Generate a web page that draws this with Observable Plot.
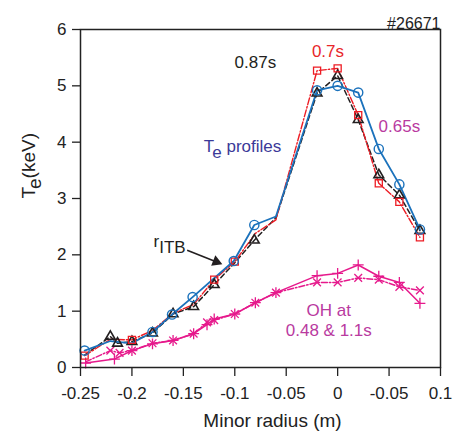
<!DOCTYPE html>
<html><head><meta charset="utf-8">
<script src="https://cdn.jsdelivr.net/npm/d3@7"></script>
<script src="https://cdn.jsdelivr.net/npm/@observablehq/plot@0.6"></script>
<style>body{margin:0;background:#fff} svg{display:block}</style>
</head><body><div id="chart"></div>
<script>
// ---- data ----
const xTicks = [-0.25, -0.2, -0.15, -0.1, -0.05, 0, 0.05, 0.1];
const xTickLabels = ["-0.25", "-0.2", "-0.15", "-0.1", "-0.05", "0", "-0.05", "0.1"];
const yTicks = [0, 1, 2, 3, 4, 5, 6];

// 0.65s (blue, circles)
const blueX = [-0.246, -0.221, -0.2, -0.18, -0.161, -0.141, -0.101, -0.081, -0.06, -0.02, 0, 0.02, 0.04, 0.06, 0.08];
const blueY = [0.30, 0.47, 0.43, 0.63, 0.94, 1.25, 1.89, 2.53, 2.68, 4.92, 5.0, 4.88, 3.88, 3.25, 2.45];
const blueMarked = [1, 0, 0, 1, 1, 1, 1, 1, 0, 1, 1, 1, 1, 1, 1];

// 0.7s (red, squares)
const redX = [-0.246, -0.221, -0.2, -0.18, -0.16, -0.14, -0.12, -0.1, -0.08, -0.06, -0.02, 0, 0.02, 0.04, 0.06, 0.08];
const redY = [0.21, 0.50, 0.49, 0.66, 0.96, 1.12, 1.56, 1.88, 2.38, 2.62, 5.27, 5.31, 4.48, 3.27, 2.94, 2.31];
const redMarked = [1, 0, 1, 0, 0, 0, 1, 1, 0, 0, 1, 1, 1, 1, 1, 1];

// 0.87s (black, triangles)
const blackX = [-0.246, -0.221, -0.214, -0.2, -0.18, -0.16, -0.14, -0.12, -0.1, -0.081, -0.06, -0.02, 0, 0.02, 0.04, 0.06, 0.08];
const blackY = [0.22, 0.55, 0.43, 0.46, 0.61, 0.95, 1.08, 1.47, 1.86, 2.26, 2.66, 4.87, 5.18, 4.40, 3.42, 3.06, 2.43];
const blackMarked = [0, 1, 1, 1, 1, 1, 1, 1, 0, 1, 0, 1, 1, 1, 1, 1, 1];

// OH (magenta) — solid with "+"
const ohAX = [-0.245, -0.217, -0.2, -0.18, -0.16, -0.14, -0.127, -0.12, -0.1, -0.08, -0.06, -0.02, 0, 0.02, 0.04, 0.06, 0.08];
const ohAY = [0.08, 0.15, 0.30, 0.42, 0.48, 0.60, 0.76, 0.86, 0.95, 1.15, 1.33, 1.63, 1.67, 1.82, 1.62, 1.51, 1.14];
// OH (magenta) — dash-dot with "x"
const ohBX = [-0.245, -0.221, -0.212, -0.2, -0.18, -0.16, -0.14, -0.127, -0.12, -0.1, -0.08, -0.06, -0.02, 0, 0.02, 0.04, 0.06, 0.08];
const ohBY = [0.10, 0.30, 0.26, 0.30, 0.43, 0.48, 0.60, 0.80, 0.84, 0.95, 1.15, 1.33, 1.51, 1.51, 1.59, 1.56, 1.43, 1.37];
const ohBMarked = [0, 1, 1, 1, 1, 1, 1, 1, 1, 1, 1, 1, 1, 1, 1, 1, 1, 1];

// annotation texts
const annoText = ["0.87s", "0.7s", "0.65s", "Te profiles", "OH at", "0.48 & 1.1s"];
const annoX = [-0.080, -0.0094, 0.060, -0.0925, -0.0086, -0.0086];
const annoY = [5.41, 5.60, 4.27, 3.92, 1.01, 0.66];
const annoColor = ["#231f20", "#e8262a", "#b93a9f", "#3b3a98", "#b93a9f", "#b93a9f"];
const rITB = {text: "rITB", x: -0.179, y: 2.23};
const arrowFrom = [-0.1463, 2.08];
const arrowTo = [-0.1139, 1.846];

// ---- build tables ----
const mk = (xs, ys, flags) => xs.map((x, i) => ({x, y: ys[i], m: flags ? !!flags[i] : true}));
const blue = mk(blueX, blueY, blueMarked);
const red = mk(redX, redY, redMarked);
const black = mk(blackX, blackY, blackMarked);
const ohA = mk(ohAX, ohAY);
const ohB = mk(ohBX, ohBY, ohBMarked);
const anno = annoText.map((t, i) => ({t, x: annoX[i], y: annoY[i], c: annoColor[i]}));

const FONT = "Liberation Sans, Arial, Helvetica, sans-serif";
const MAG = "#e6198c";

const chart = Plot.plot({
  width: 453, height: 437,
  marginLeft: 80, marginRight: 13, marginTop: 29, marginBottom: 70,
  x: {domain: [-0.25, 0.1]},
  y: {domain: [0, 6]},
  style: {fontFamily: FONT, fontSize: "17px", color: "#222", background: "white", overflow: "visible"},
  marks: [
    Plot.axisX({ticks: xTicks, tickFormat: d => xTickLabels[xTicks.findIndex(t => Math.abs(t - d) < 1e-9)],
      tickSize: 9, tickPadding: 10, label: null, stroke: "#222", strokeWidth: 1.3, fill: "#222"}),
    Plot.axisY({ticks: yTicks, tickFormat: d => String(d), tickSize: 8, tickPadding: 6, label: null,
      stroke: "#222", strokeWidth: 1.3, fill: "#222"}),
    // OH lines
    Plot.line(ohA, {x: "x", y: "y", stroke: MAG, strokeWidth: 1.5}),
    Plot.line(ohB, {x: "x", y: "y", stroke: MAG, strokeWidth: 1.5, strokeDasharray: "6,2,1.5,2"}),
    Plot.dot(ohA, {x: "x", y: "y", symbol: "plus", r: 3.6, stroke: MAG, strokeWidth: 1.3}),
    Plot.dot(ohB.filter(d => d.m), {x: "x", y: "y", symbol: "times", r: 3.6, stroke: MAG, strokeWidth: 1.3}),
    // profiles
    Plot.line(black, {x: "x", y: "y", stroke: "#231f20", strokeWidth: 1.5, strokeDasharray: "5,3"}),
    Plot.line(red, {x: "x", y: "y", stroke: "#ed1c24", strokeWidth: 1.4, strokeDasharray: "7,2,1.5,2"}),
    Plot.line(blue, {x: "x", y: "y", stroke: "#1b72bc", strokeWidth: 1.8}),
    Plot.dot(black.filter(d => d.m), {x: "x", y: "y", symbol: "triangle", r: 3.6, stroke: "#231f20", strokeWidth: 1.6, fill: "none"}),
    Plot.dot(red.filter(d => d.m), {x: "x", y: "y", symbol: "square", r: 4.0, stroke: "#ed1c24", strokeWidth: 1.3, fill: "none"}),
    Plot.dot(blue.filter(d => d.m), {x: "x", y: "y", symbol: "circle", r: 4.6, stroke: "#1b72bc", strokeWidth: 1.4, fill: "none"}),
    // annotations
    Plot.text(anno, {x: "x", y: "y", text: "t", fill: "c", fontSize: 17, fontFamily: FONT}),
    Plot.text([rITB], {x: "x", y: "y", text: "text", fill: "#231f20", fontSize: 17, textAnchor: "start", fontFamily: FONT}),
    Plot.link([0], {x1: arrowFrom[0], y1: arrowFrom[1], x2: arrowTo[0], y2: arrowTo[1], stroke: "#231f20", strokeWidth: 1.6}),
    Plot.dot([0], {x: arrowTo[0], y: arrowTo[1], symbol: "triangle", r: 4.2, rotate: 111.8, dx: -4.2, dy: -1.7, fill: "#231f20", stroke: "none"}),
    // axis titles & id
    Plot.text(["Te(keV)"], {frameAnchor: "left", rotate: -90, dx: -52, fontSize: 19, fill: "#222", fontFamily: FONT}),
    Plot.text(["Minor radius (m)"], {frameAnchor: "bottom", dx: 12, dy: 59, fontSize: 19, fill: "#222", fontFamily: FONT}),
    Plot.text(["#26671"], {frameAnchor: "top-right", dy: -12, textAnchor: "end", fontSize: 16, fill: "#222", fontFamily: FONT}),
    Plot.frame({stroke: "#222", strokeWidth: 1.5})
  ]
});

// subscripts
const subs = {
  "Te profiles": [["T", 0], ["e", 1], [" profiles", 0]],
  "Te(keV)": [["T", 0], ["e", 1], ["(keV)", 0]],
  "rITB": [["r", 0], ["ITB", 1]]
};
d3.select(chart).selectAll("text").each(function() {
  const t = this.textContent;
  if (subs[t]) {
    const sel = d3.select(this);
    sel.text(null);
    let down = false;
    for (const [s, isSub] of subs[t]) {
      const ts = sel.append("tspan").text(s);
      if (isSub && !down) { ts.attr("dy", "6"); down = true; }
      else if (!isSub && down) { ts.attr("dy", "-6"); down = false; }
    }
  }
});
document.getElementById("chart").appendChild(chart);
</script>
</body></html>
